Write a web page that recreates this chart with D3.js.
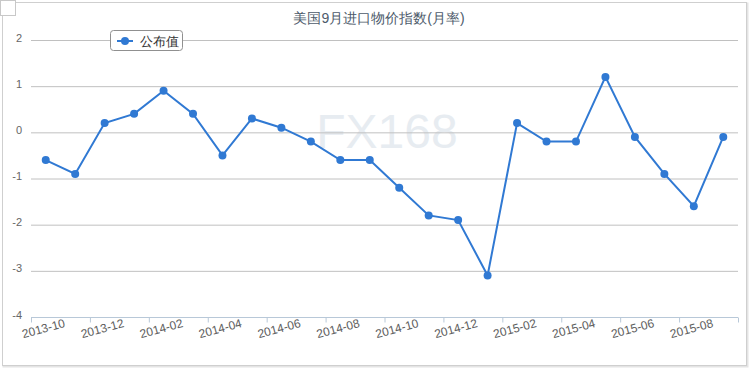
<!DOCTYPE html>
<html><head><meta charset="utf-8">
<script src="https://cdn.jsdelivr.net/npm/d3@7"></script>
<style>
html,body{margin:0;padding:0;background:#fff;}
svg{display:block;font-family:"Liberation Sans",Arial,sans-serif;}
</style></head>
<body>
<svg id="chart" width="750" height="370"></svg>
<script>
const months = ["2013-10","2013-11","2013-12","2014-01","2014-02","2014-03","2014-04","2014-05","2014-06","2014-07","2014-08","2014-09","2014-10","2014-11","2014-12","2015-01","2015-02","2015-03","2015-04","2015-05","2015-06","2015-07","2015-08","2015-09"];
const published = [-0.6,-0.9,0.2,0.4,0.9,0.4,-0.5,0.3,0.1,-0.2,-0.6,-0.6,-1.2,-1.8,-1.9,-3.1,0.2,-0.2,-0.2,1.2,-0.1,-0.9,-1.6,-0.1];
const yTicks = [-4,-3,-2,-1,0,1,2];
const title = "美国9月进口物价指数(月率)";
const seriesName = "公布值";
const watermark = "FX168";

const svg = d3.select("#chart");
const pLeft = 31, pRight = 738, pTop = 40, pBottom = 317;

// outer frame
svg.append("rect").attr("x",4).attr("y",4).attr("width",743).attr("height",362)
  .attr("fill","none").attr("stroke","#e4e4e4").attr("stroke-width",3);
svg.append("rect").attr("x",2.5).attr("y",2.5).attr("width",744).attr("height",363)
  .attr("fill","#fff").attr("stroke","#cfcfcf").attr("stroke-width",1);
svg.append("rect").attr("x",0.5).attr("y",0.5).attr("width",15).attr("height",15)
  .attr("fill","#fff").attr("stroke","#c8c8c8");

const x = d3.scaleBand().domain(months).range([pLeft,pRight]).padding(0);
const y = d3.scaleLinear().domain([-4,2]).range([pBottom,pTop]);

// watermark
svg.append("text").attr("x",387).attr("y",148).attr("text-anchor","middle")
  .attr("font-size",48).attr("fill","#e7ecf1").text(watermark);

// grid
const yAxis = d3.axisLeft(y).tickValues(yTicks).tickSize(0).tickPadding(8).tickFormat(d=>String(d));
const gy = svg.append("g").attr("transform",`translate(${pLeft-1},0)`).call(yAxis);
gy.select(".domain").remove();
gy.selectAll("text").attr("fill","#666").attr("font-size",11).attr("dy","0.1em");
svg.append("g").selectAll("line").data(yTicks.filter(d=>d!==-4)).join("line")
  .attr("x1",pLeft).attr("x2",pRight).attr("y1",d=>y(d)+0.5).attr("y2",d=>y(d)+0.5)
  .attr("stroke","#c0c0c0").attr("stroke-width",1);

// x axis
const tickMonths = months.filter((d,i)=>i%2===0);
const xAxis = d3.axisBottom(x).tickValues(tickMonths).tickSize(5).tickSizeOuter(0);
const gx = svg.append("g").attr("transform",`translate(0,${pBottom+0.5})`).call(xAxis);
gx.select(".domain").attr("stroke","#b8c8d8").attr("d",`M${pLeft},0H${pRight}`);
gx.selectAll(".tick").attr("transform",d=>`translate(${x(d)+0.5},0)`);
gx.selectAll(".tick line").attr("stroke","#b8c8d8");
gx.selectAll(".tick text").attr("fill","#606060").attr("font-size",12)
  .attr("text-anchor","middle").attr("y",0).attr("dy",0)
  .attr("transform","translate(13,15) rotate(-15)");
gx.append("line").attr("x1",pRight+0.5).attr("x2",pRight+0.5).attr("y1",0).attr("y2",5).attr("stroke","#b8c8d8");

// line
const color = "#3079d3";
const cx = d=>x(d)+x.bandwidth()/2;
svg.append("path").datum(published.map((v,i)=>[cx(months[i]),y(v)]))
  .attr("d",d3.line()).attr("fill","none").attr("stroke",color).attr("stroke-width",2);
svg.append("g").selectAll("circle").data(published).join("circle")
  .attr("cx",(d,i)=>cx(months[i])).attr("cy",d=>y(d)).attr("r",4).attr("fill",color);

// title
svg.append("text").attr("x",379).attr("y",23).attr("text-anchor","middle")
  .attr("font-size",14).attr("fill","#4d5b6b").text(title);

// legend
const lg = svg.append("g");
lg.append("rect").attr("x",110.5).attr("y",30.5).attr("width",72).attr("height",20).attr("rx",3)
  .attr("fill","#fff").attr("stroke","#909090");
lg.append("line").attr("x1",117).attr("x2",133).attr("y1",41).attr("y2",41).attr("stroke",color).attr("stroke-width",2);
lg.append("circle").attr("cx",125).attr("cy",41).attr("r",4).attr("fill",color);
lg.append("text").attr("x",140).attr("y",46).attr("font-size",13).attr("fill","#333").text(seriesName);
</script>
</body></html>
